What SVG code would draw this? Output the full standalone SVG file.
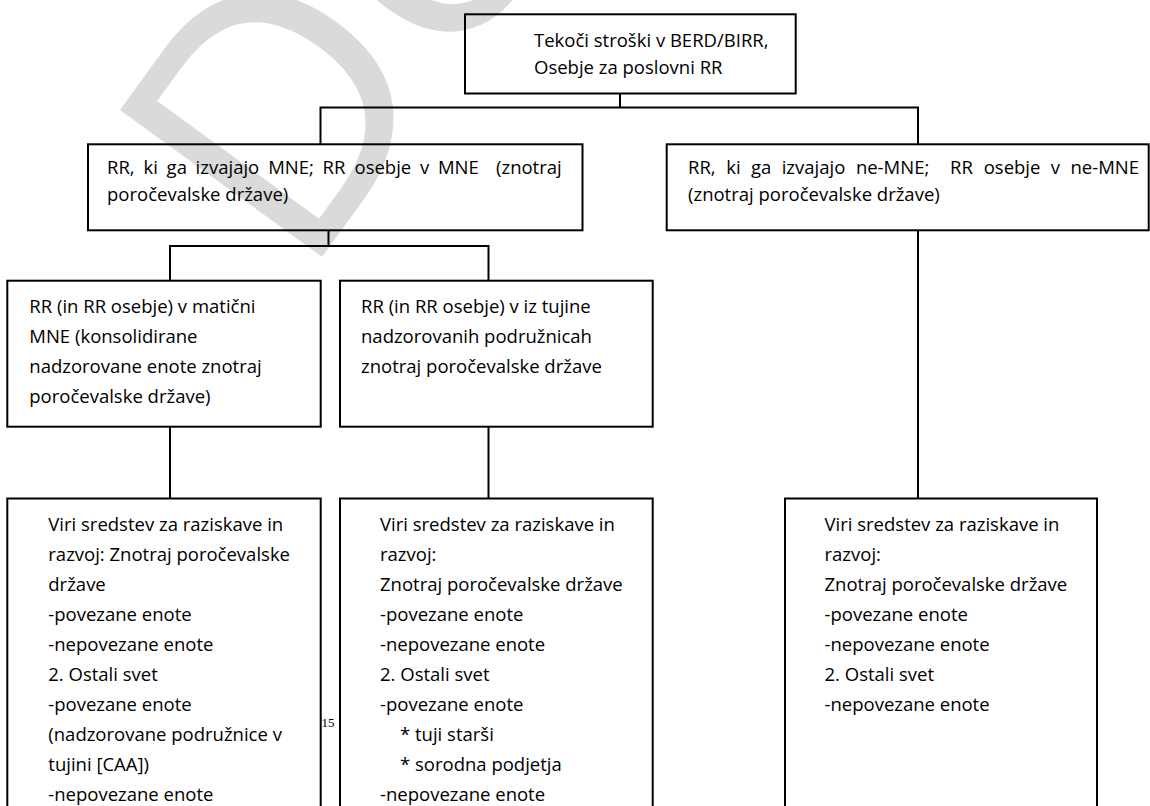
<svg xmlns="http://www.w3.org/2000/svg" width="1150" height="806" viewBox="0 0 1150 806">
<style>
.box{fill:none;stroke:#000;stroke-width:2}
.conn{fill:none;stroke:#000;stroke-width:2}
.t{font-family:"Open Sans","Liberation Sans",sans-serif;font-size:18.5px;fill:#000}
.wm{font-family:"Open Sans","Liberation Sans",sans-serif;font-size:350px;fill:#dadada}
.fn{font-family:"Liberation Serif",serif;font-size:13px;fill:#000}
</style>
<rect width="1150" height="806" fill="#fff"/>
<text class="wm" transform="translate(302,284.5) rotate(-54)">Delo</text>
<g id="connectors">
<path class="conn" d="M620,93.5V107.5M320.5,144.3V107.5H918V144.3"/>
<path class="conn" d="M328.5,230.3V246M170,280.7V246H488.5V280.7"/>
<path class="conn" d="M170,426.7V498.5M488.5,426.7V498.5M918,230.3V498.5"/>
</g>
<g id="n-top">
<rect class="box" x="465" y="14.3" width="330.7" height="79.2"/>
<text class="t"><tspan x="534" y="47.3">Tekoči stroški v BERD/BIRR,</tspan><tspan x="534" y="74">Osebje za poslovni RR</tspan></text>
</g>
<g id="n-mne">
<rect class="box" x="88" y="144.3" width="494.5" height="86"/>
<text class="t" y="174"><tspan x="107">RR,</tspan><tspan x="143.5">ki</tspan><tspan x="166.6">ga</tspan><tspan x="195.6">izvajajo</tspan><tspan x="268.2">MNE;</tspan><tspan x="322.5">RR</tspan><tspan x="354.5">osebje</tspan><tspan x="420">v</tspan><tspan x="437.9">MNE</tspan><tspan x="496">(znotraj</tspan></text>
<text class="t" x="107" y="201">poročevalske države)</text>
</g>
<g id="n-nonmne">
<rect class="box" x="666.7" y="144.3" width="482" height="86"/>
<text class="t" y="174"><tspan x="688">RR,</tspan><tspan x="726.2">ki</tspan><tspan x="750.9">ga</tspan><tspan x="781.7">izvajajo</tspan><tspan x="855.9">ne-MNE;</tspan><tspan x="950">RR</tspan><tspan x="983.7">osebje</tspan><tspan x="1050.8">v</tspan><tspan x="1070.5">ne-MNE</tspan></text>
<text class="t" x="688" y="201">(znotraj poročevalske države)</text>
</g>
<g id="n-parent">
<rect class="box" x="7.3" y="280.7" width="313.4" height="146"/>
<text class="t"><tspan x="29.3" y="312.7">RR (in RR osebje) v matični</tspan><tspan x="29.3" dy="30">MNE (konsolidirane</tspan><tspan x="29.3" dy="30">nadzorovane enote znotraj</tspan><tspan x="29.3" dy="30">poročevalske države)</tspan></text>
</g>
<g id="n-foreign">
<rect class="box" x="340" y="280.7" width="312.7" height="146"/>
<text class="t"><tspan x="361" y="312.7">RR (in RR osebje) v iz tujine</tspan><tspan x="361" dy="30">nadzorovanih podružnicah</tspan><tspan x="361" dy="30">znotraj poročevalske države</tspan></text>
</g>
<g id="n-src1">
<rect class="box" x="7.3" y="498.5" width="313.4" height="330"/>
<text class="t"><tspan x="48.3" y="530.5">Viri sredstev za raziskave in</tspan><tspan x="48.3" dy="30">razvoj: Znotraj poročevalske</tspan><tspan x="48.3" dy="30">države</tspan><tspan x="48.3" dy="30">-povezane enote</tspan><tspan x="48.3" dy="30">-nepovezane enote</tspan><tspan x="48.3" dy="30">2. Ostali svet</tspan><tspan x="48.3" dy="30">-povezane enote</tspan><tspan x="48.3" dy="30">(nadzorovane podružnice v</tspan><tspan x="48.3" dy="30">tujini [CAA])</tspan><tspan x="48.3" dy="30">-nepovezane enote</tspan></text>
</g>
<g id="n-src2">
<rect class="box" x="340" y="498.5" width="312.7" height="330"/>
<text class="t"><tspan x="380" y="530.5">Viri sredstev za raziskave in</tspan><tspan x="380" dy="30">razvoj:</tspan><tspan x="380" dy="30">Znotraj poročevalske države</tspan><tspan x="380" dy="30">-povezane enote</tspan><tspan x="380" dy="30">-nepovezane enote</tspan><tspan x="380" dy="30">2. Ostali svet</tspan><tspan x="380" dy="30">-povezane enote</tspan><tspan x="400" dy="30">* tuji starši</tspan><tspan x="400" dy="30">* sorodna podjetja</tspan><tspan x="380" dy="30">-nepovezane enote</tspan></text>
</g>
<g id="n-src3">
<rect class="box" x="785" y="498.5" width="312" height="330"/>
<text class="t"><tspan x="824.5" y="530.5">Viri sredstev za raziskave in</tspan><tspan x="824.5" dy="30">razvoj:</tspan><tspan x="824.5" dy="30">Znotraj poročevalske države</tspan><tspan x="824.5" dy="30">-povezane enote</tspan><tspan x="824.5" dy="30">-nepovezane enote</tspan><tspan x="824.5" dy="30">2. Ostali svet</tspan><tspan x="824.5" dy="30">-nepovezane enote</tspan></text>
</g>
<text class="fn" x="321.5" y="727">15</text>
</svg>
